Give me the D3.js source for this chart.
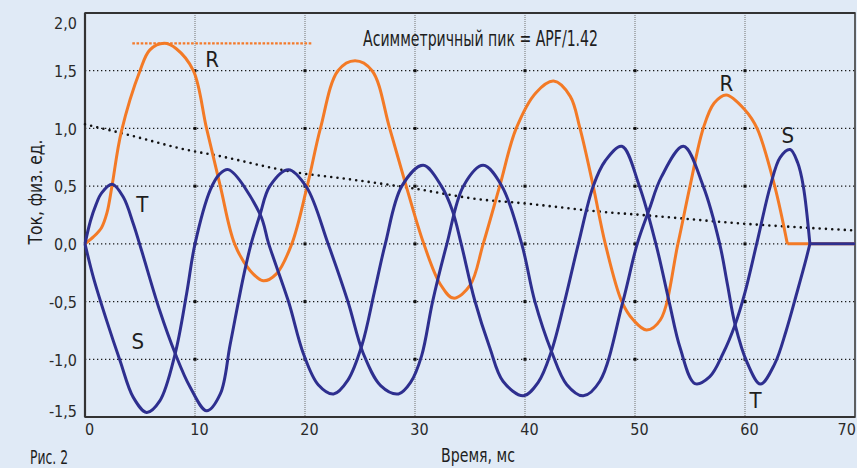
<!DOCTYPE html>
<html><head><meta charset="utf-8">
<script src="https://cdn.jsdelivr.net/npm/d3@7/dist/d3.min.js"></script>
<style>
html,body{margin:0;padding:0;background:#e0eaf6;}
svg{display:block;}
.cond{font-family:"Liberation Sans Narrow","DejaVu Sans Condensed","Roboto Condensed","Open Sans",sans-serif;font-stretch:condensed;}
</style></head>
<body>
<svg id="chart" width="857" height="468"></svg>
<script>
// ---------- data ----------
const xTickValues = [0,10,20,30,40,50,60,70];
const xTickLabels = ["0","10","20","30","40","50","60","70"];
const yTickValues = [-1.5,-1,-0.5,0,0.5,1,1.5,2];
const yTickLabels = ["-1,5","-1,0","-0,5","0,0","0,5","1,0","1,5","2,0"];

// Phase R (orange), time in ms / current p.u.
const rTime  = [0,0.76,1.5,2.0,2.45,3.3,5.0,5.9,7.2,8.3,9.85,11.05,12.3,13.6,15.0,16.2,17.4,18.8,20.2,21.4,23.0,24.55,26.1,27.7,29.2,30.8,32.3,33.5,35.0,36.2,37.7,39.2,41.0,42.6,44.1,45.0,46.2,47.3,48.8,49.85,51.05,52.3,53.9,55.0,56.2,57.2,58.3,60.0,61.1,62.7,63.85];
const rValue = [0,0.06,0.14,0.27,0.5,0.97,1.5,1.68,1.737,1.69,1.5,1.0,0.5,0.0,-0.23,-0.32,-0.26,0.0,0.5,1.0,1.5,1.586,1.5,1.0,0.5,0.0,-0.35,-0.47,-0.36,0.0,0.5,1.0,1.31,1.41,1.28,1.0,0.5,0.0,-0.5,-0.66,-0.746,-0.66,0.0,0.5,1.0,1.22,1.29,1.16,1.0,0.5,0.0];
// Phase S (blue)
const sTime  = [0,0.76,1.97,3.18,4.39,5.6,6.8,8.2,9.24,10.0,11.4,12.2,13.03,15.9,16.7,18.5,19.85,21.2,22.6,23.9,25.2,26.3,27.3,28.8,30.75,32.4,33.4,34.2,35.4,36.8,38.0,39.85,41.2,42.4,43.6,44.85,46.2,47.3,48.8,50.4,51.9,53.1,54.1,55.45,56.8,58.0,59.1,60.0,61.06,62.3,63.2,64.1,64.8,65.3,65.9];
const sValue = [0,-0.29,-0.665,-1.01,-1.33,-1.46,-1.36,-0.95,-0.43,0.0,0.47,0.6,0.643,0.26,0.0,-0.5,-0.95,-1.22,-1.30,-1.18,-0.87,-0.42,0.0,0.5,0.68,0.5,0.29,0.0,-0.48,-0.9,-1.19,-1.316,-1.2,-0.93,-0.5,0.0,0.5,0.72,0.845,0.5,0.0,-0.5,-0.9,-1.21,-1.15,-0.95,-0.70,-0.42,0.0,0.5,0.75,0.817,0.7,0.5,0.0];
// Phase T (blue)
const tTime  = [0,0.5,1.0,1.5,2.48,3.48,4.39,5.15,6.8,8.2,9.55,11.06,12.3,13.2,14.39,15.1,15.9,16.8,18.5,20.15,22.1,23.9,25.3,26.9,28.5,29.6,30.6,31.6,32.9,34.4,36.2,37.9,39.7,40.9,42.4,43.8,45.3,46.8,48.9,50.2,51.3,52.4,54.4,56.2,57.7,58.4,59.1,60.2,61.4,62.7,63.75,64.7,65.45,65.9];
const tValue = [0,0.2,0.34,0.44,0.516,0.405,0.174,-0.06,-0.58,-0.95,-1.24,-1.446,-1.3,-0.87,-0.29,0.0,0.25,0.5,0.643,0.49,0.0,-0.5,-0.95,-1.23,-1.30,-1.2,-0.97,-0.5,0.0,0.5,0.68,0.5,0.0,-0.5,-0.93,-1.22,-1.316,-1.19,-0.5,0.0,0.3,0.58,0.845,0.5,0.0,-0.35,-0.70,-1.03,-1.215,-1.04,-0.75,-0.43,-0.17,0.0];
// Decaying DC envelope (black dotted)
const envTime  = [0,3.3,10,11.4,19.3,23.6,30,35.5,40,47.3,50,60,70];
const envValue = [1.036,0.96,0.80,0.776,0.617,0.565,0.478,0.39,0.35,0.275,0.255,0.174,0.116];
// Asymmetric peak marker (orange dashed)
const peakLineTime  = [4.3,20.6];
const peakLineValue = [1.737,1.737];
// zero after interruption
const rZeroTime = [63.85,70];
const stZeroTime = [65.9,70];

// ---------- chart ----------
const W = 857, H = 468;
const svg = d3.select("#chart");
const x = d3.scaleLinear().domain([0,70]).range([85,855]);
const y = d3.scaleLinear().domain([-1.5,2]).range([417,13]);

svg.append("rect").attr("width",W).attr("height",H).attr("fill","#e0eaf6");

// vertical grid (gray dense dots)
svg.append("g").selectAll("line").data(xTickValues.filter(v=>v>0&&v<70)).join("line")
  .attr("x1",d=>x(d)).attr("x2",d=>x(d)).attr("y1",y(2)).attr("y2",y(-1.5))
  .attr("stroke","#7d7d7d").attr("stroke-width",1.1).attr("stroke-dasharray","1 1");
// horizontal grid (black dots)
svg.append("g").selectAll("line").data(yTickValues.filter(v=>v>-1.5&&v<2)).join("line")
  .attr("x1",x(0)).attr("x2",x(70)).attr("y1",d=>y(d)).attr("y2",d=>y(d))
  .attr("stroke","#1a1a1a").attr("stroke-width",1.3).attr("stroke-dasharray","1.3 2.7");
// tick dots at grid intersections
const inter = [];
xTickValues.filter(v=>v>0&&v<70).forEach(a=>yTickValues.filter(v=>v>-1.5&&v<2).forEach(b=>inter.push([a,b])));
svg.append("g").selectAll("rect").data(inter).join("rect")
  .attr("x",d=>x(d[0])-1.5).attr("y",d=>y(d[1])-1.5).attr("width",3).attr("height",3).attr("fill","#111");

// frame
svg.append("rect").attr("x",x(0)).attr("y",y(2)).attr("width",x(70)-x(0)).attr("height",y(-1.5)-y(2))
  .attr("fill","none").attr("stroke","#3c3c3c").attr("stroke-width",1.6);
svg.append("line").attr("x1",x(0)).attr("x2",x(0)).attr("y1",y(2)).attr("y2",y(-1.5)).attr("stroke","#333").attr("stroke-width",2.2);
svg.append("line").attr("x1",x(0)).attr("x2",x(70)).attr("y1",y(-1.5)).attr("y2",y(-1.5)).attr("stroke","#333").attr("stroke-width",2.2);
svg.append("line").attr("x1",x(0)).attr("x2",x(70)).attr("y1",y(2)).attr("y2",y(2)).attr("stroke","#333").attr("stroke-width",2.2);

// axes (labels only)
const yAxis = svg.append("g").attr("transform",`translate(${x(0)},0)`)
  .call(d3.axisLeft(y).tickValues(yTickValues).tickSize(0).tickPadding(8).tickFormat((d,i)=>yTickLabels[i]));
yAxis.select(".domain").remove();
yAxis.selectAll("text").attr("class","cond").attr("font-size",16).attr("fill","#2a2a2a")
  .attr("dy",(d)=> d===2 ? "0.95em" : (d===-1.5 ? "-0.05em" : "0.36em"));
const xAxis = svg.append("g").attr("transform",`translate(0,${y(-1.5)})`)
  .call(d3.axisBottom(x).tickValues(xTickValues).tickSize(0).tickPadding(7).tickFormat((d,i)=>xTickLabels[i]));
xAxis.select(".domain").remove();
xAxis.selectAll("text").attr("class","cond").attr("font-size",16).attr("fill","#2a2a2a")
  .attr("dx",d=> d===70 ? "-0.1em" : "0.25em")
  .attr("text-anchor",d=> d===70 ? "end" : "middle")
  .attr("x",d=> d===70 ? W - x(70) : 0);

// line generators
const lineMono = d3.line().x(d=>x(d[0])).y(d=>y(d[1])).curve(d3.curveMonotoneX);
const lineSmooth = d3.line().x(d=>x(d[0])).y(d=>y(d[1])).curve(d3.curveCatmullRom.alpha(0.5));
const lineStraight = d3.line().x(d=>x(d[0])).y(d=>y(d[1]));

// envelope
svg.append("path").datum(envTime.map((t,i)=>[t,envValue[i]])).attr("d",lineMono)
  .attr("fill","none").attr("stroke","#111").attr("stroke-width",2.6)
  .attr("stroke-linecap","round").attr("stroke-dasharray","0 6.3");

// peak marker line
svg.append("path").datum(peakLineTime.map((t,i)=>[t,peakLineValue[i]])).attr("d",lineStraight)
  .attr("fill","none").attr("stroke","#f47a2a").attr("stroke-width",2.2).attr("stroke-dasharray","2.6 1.6");

const ORANGE = "#f37a26", BLUE = "#2e2f8f";
// R
svg.append("path").datum(rTime.map((t,i)=>[t,rValue[i]])).attr("d",lineSmooth)
  .attr("fill","none").attr("stroke",ORANGE).attr("stroke-width",3).attr("stroke-linejoin","round");
svg.append("path").datum(rZeroTime.map(t=>[t,0])).attr("d",lineStraight)
  .attr("fill","none").attr("stroke",ORANGE).attr("stroke-width",3);
// S, T
[[sTime,sValue],[tTime,tValue]].forEach(([ts,vs])=>{
  svg.append("path").datum(ts.map((t,i)=>[t,vs[i]])).attr("d",lineSmooth)
    .attr("fill","none").attr("stroke",BLUE).attr("stroke-width",3).attr("stroke-linejoin","round");
});
svg.append("path").datum(stZeroTime.map(t=>[t,0])).attr("d",lineStraight)
  .attr("fill","none").attr("stroke",BLUE).attr("stroke-width",3);

// phase labels
const phaseLabels = [
  {txt:"R",t:11.55,v:1.53},{txt:"R",t:58.3,v:1.325},
  {txt:"S",t:4.8,v:-0.91},{txt:"S",t:63.9,v:0.874},
  {txt:"T",t:5.2,v:0.276},{txt:"T",t:60.95,v:-1.42}];
svg.append("g").selectAll("text").data(phaseLabels).join("text")
  .attr("class","cond").attr("x",d=>x(d.t)).attr("y",d=>y(d.v)).attr("text-anchor","middle")
  .attr("font-size",22).attr("fill","#1e1e1e").text(d=>d.txt);

// annotation
svg.append("text").attr("class","cond").attr("x",363).attr("y",46)
  .attr("font-size",22).attr("fill","#1e1e1e").attr("textLength",235).attr("lengthAdjust","spacingAndGlyphs")
  .text("Асимметричный пик = APF/1.42");

// axis titles
svg.append("text").attr("class","cond").attr("transform","translate(42,192) rotate(-90)")
  .attr("text-anchor","middle").attr("font-size",19).attr("fill","#1e1e1e")
  .attr("textLength",105).attr("lengthAdjust","spacingAndGlyphs").text("Ток, физ. ед.");
svg.append("text").attr("class","cond").attr("x",478).attr("y",462).attr("text-anchor","middle")
  .attr("font-size",20).attr("fill","#1e1e1e").attr("textLength",74).attr("lengthAdjust","spacingAndGlyphs").text("Время, мс");
svg.append("text").attr("class","cond").attr("x",30).attr("y",464)
  .attr("font-size",19).attr("fill","#1e1e1e").attr("textLength",38).attr("lengthAdjust","spacingAndGlyphs").text("Рис. 2");
</script>
</body></html>
